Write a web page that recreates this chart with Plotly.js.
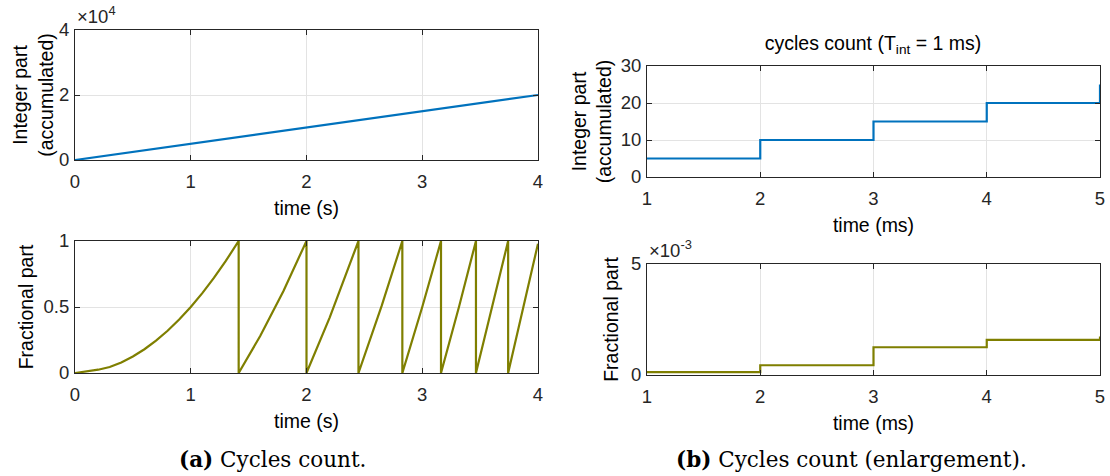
<!DOCTYPE html>
<html>
<head>
<meta charset="utf-8">
<script src="https://cdn.plot.ly/plotly-3.0.1.min.js"></script>
<style>html,body{margin:0;padding:0;background:#fff;}#chart{width:1110px;height:476px;}</style>
</head>
<body>
<div id="chart"></div>
<script>
// (a) integer part (accumulated) vs time (s)
const intTime = [0, 1, 2, 3, 4];
const intValue = [0, 5000, 10000, 15000, 20000];

// (a) fractional part vs time (s)
const fracTime = [0, 0.1, 0.2, 0.3, 0.4, 0.5, 0.6, 0.7, 0.8, 0.9, 1.0, 1.1, 1.2, 1.3, 1.414,
                  1.414, 1.6, 1.8, 2.0,
                  2.0, 2.2, 2.449,
                  2.449, 2.65, 2.828,
                  2.828, 3.0, 3.162,
                  3.162, 3.32, 3.464,
                  3.464, 3.6, 3.742,
                  3.742, 3.87, 4.0];
const fracValue = [0, 0.01, 0.025, 0.045, 0.08, 0.125, 0.18, 0.245, 0.32, 0.405, 0.5, 0.605, 0.72, 0.845, 1.0,
                   0, 0.28, 0.62, 1.0,
                   0, 0.42, 1.0,
                   0, 0.51, 1.0,
                   0, 0.5, 1.0,
                   0, 0.51, 1.0,
                   0, 0.48, 1.0,
                   0, 0.49, 0.98];

// (b) enlargement, time (ms)
const zoomTime = [1, 2, 3, 4, 5];
const zoomInt = [5, 10, 15, 20, 25];
const zoomFrac = [0.00013, 0.00044, 0.00125, 0.00158, 0.00173];

// tick labels
const tickTimeS = [0, 1, 2, 3, 4];
const tickTimeMs = [1, 2, 3, 4, 5];
const tickIntA = [0, 20000, 40000];
const tickIntAText = ['0', '2', '4'];
const tickFracA = [0, 0.5, 1];
const tickIntB = [0, 10, 20, 30];
const tickFracB = [0, 0.005];
const tickFracBText = ['0', '5'];

const W = 1110, H = 476;
const px = v => v / W;
const py = v => 1 - v / H;

const BLUE = '#0072BD';
const OLIVE = '#7F7F00';
const AX = '#262626';
const GRID = '#e3e3e3';
const FONT = 'Liberation Sans, Arial, sans-serif';
const SERIF = 'DejaVu Serif, Liberation Serif, serif';
const TICK = 18.5, LAB = 19.5;

function xax(domain, anchor, range, tv, title, standoff) {
  return {
    domain: domain, anchor: anchor, range: range, tickvals: tv,
    ticks: 'inside', ticklen: 5, tickcolor: AX, tickwidth: 1,
    showline: true, linecolor: AX, linewidth: 1, mirror: 'ticks',
    showgrid: true, gridcolor: GRID, gridwidth: 1, zeroline: false,
    ticklabelstandoff: 5,
    tickfont: {family: FONT, size: TICK, color: AX},
    title: {text: title, font: {family: FONT, size: LAB, color: '#000'}, standoff: standoff},
    automargin: false, fixedrange: true
  };
}
function yax(domain, anchor, range, tv, tt, title, standoff) {
  const a = {
    domain: domain, anchor: anchor, range: range, tickvals: tv,
    ticks: 'inside', ticklen: 5, tickcolor: AX, tickwidth: 1,
    showline: true, linecolor: AX, linewidth: 1, mirror: 'ticks',
    showgrid: true, gridcolor: GRID, gridwidth: 1, zeroline: false,
    ticklabelstandoff: 1,
    tickfont: {family: FONT, size: TICK, color: AX},
    title: {text: title, font: {family: FONT, size: LAB, color: '#000'}, standoff: standoff},
    automargin: false, fixedrange: true
  };
  if (tt) a.ticktext = tt;
  return a;
}

const traces = [
  {x: intTime, y: intValue, xaxis: 'x', yaxis: 'y', mode: 'lines', line: {color: BLUE, width: 2.2}, showlegend: false, hoverinfo: 'skip'},
  {x: fracTime, y: fracValue, xaxis: 'x2', yaxis: 'y2', mode: 'lines', line: {color: OLIVE, width: 2.2}, showlegend: false, hoverinfo: 'skip'},
  {x: zoomTime, y: zoomInt, xaxis: 'x3', yaxis: 'y3', mode: 'lines', line: {color: BLUE, width: 2.2, shape: 'hv'}, showlegend: false, hoverinfo: 'skip'},
  {x: zoomTime, y: zoomFrac, xaxis: 'x4', yaxis: 'y4', mode: 'lines', line: {color: OLIVE, width: 2.2, shape: 'hv'}, showlegend: false, hoverinfo: 'skip'}
];

const layout = {
  width: W, height: H,
  margin: {l: 0, r: 0, t: 0, b: 0},
  paper_bgcolor: '#fff', plot_bgcolor: '#fff',
  font: {family: FONT, color: AX},
  showlegend: false,
  title: {text: 'cycles count (T<sub>int</sub> = 1 ms)', x: px(873), xanchor: 'center', xref: 'paper', y: py(43), yanchor: 'middle', yref: 'paper', font: {family: FONT, size: LAB, color: '#000'}},
  xaxis: xax([px(75), px(538)], 'y', [0, 4], tickTimeS, 'time (s)', 10),
  yaxis: yax([py(160), py(30)], 'x', [0, 40000], tickIntA, tickIntAText, 'Integer part<br>(accumulated)', 0),
  xaxis2: xax([px(75), px(538)], 'y2', [0, 4], tickTimeS, 'time (s)', 10),
  yaxis2: yax([py(373), py(241)], 'x2', [0, 1], tickFracA, null, 'Fractional part', 4),
  xaxis3: xax([px(647), px(1100)], 'y3', [1, 5], tickTimeMs, 'time (ms)', 10),
  yaxis3: yax([py(177), py(66)], 'x3', [0, 30], tickIntB, null, 'Integer part<br>(accumulated)', 3),
  xaxis4: xax([px(647), px(1100)], 'y4', [1, 5], tickTimeMs, 'time (ms)', 10),
  yaxis4: yax([py(375), py(264)], 'x4', [0, 0.005], tickFracB, tickFracBText, 'Fractional part', 7),
  annotations: [
    {text: '×10<sup>4</sup>', xref: 'paper', yref: 'paper', x: px(75), y: py(29), xanchor: 'left', yanchor: 'bottom', showarrow: false, font: {family: FONT, size: TICK, color: AX}},
    {text: '×10<sup>-3</sup>', xref: 'paper', yref: 'paper', x: px(647), y: py(263), xanchor: 'left', yanchor: 'bottom', showarrow: false, font: {family: FONT, size: TICK, color: AX}},
    {text: '<b>(a)</b> Cycles count.', xref: 'paper', yref: 'paper', x: px(272), y: py(459), xanchor: 'center', yanchor: 'middle', showarrow: false, font: {family: SERIF, size: 21.5, color: '#000'}},
    {text: '<b>(b)</b> Cycles count (enlargement).', xref: 'paper', yref: 'paper', x: px(851), y: py(459), xanchor: 'center', yanchor: 'middle', showarrow: false, font: {family: SERIF, size: 21.5, color: '#000'}}
  ]
};

Plotly.newPlot('chart', traces, layout, {displayModeBar: false, staticPlot: true});
</script>
</body>
</html>
